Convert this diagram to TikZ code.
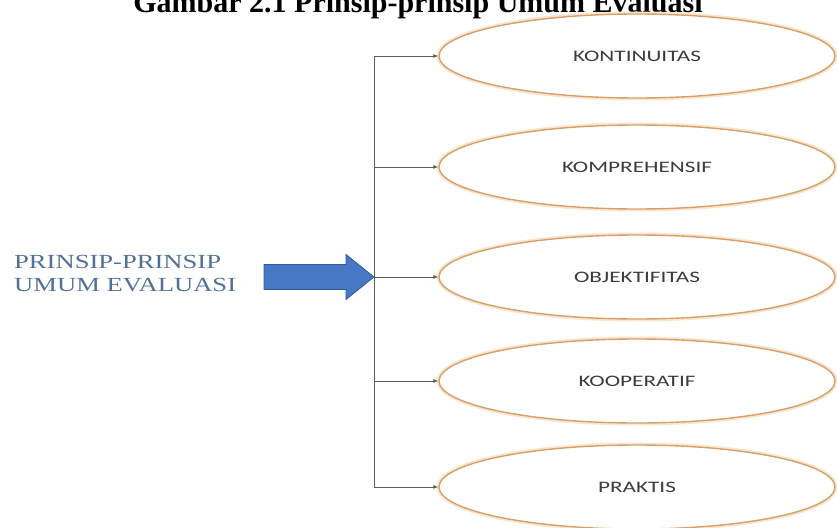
\documentclass[tikz,border=0pt]{standalone}
\usepackage{fontspec}
\setmainfont{Liberation Serif}
\newfontfamily\ovalfont[FakeStretch=1.45]{Carlito}
\newfontfamily\srcfont[FakeStretch=1.33]{Liberation Serif}
\usetikzlibrary{positioning,arrows.meta,shapes.geometric}
\definecolor{ovalline}{RGB}{214,160,104}
\definecolor{ovalglow}{RGB}{250,230,208}
\definecolor{srcblue}{RGB}{82,112,150}
\definecolor{arrblue}{RGB}{70,120,195}
\definecolor{arredge}{RGB}{50,90,150}
\definecolor{linkgray}{RGB}{95,95,95}
\definecolor{ovaltext}{RGB}{60,60,60}
\tikzset{
oval/.style={
  ellipse,
  draw=ovalline,
  line width=1.4pt,
  fill=white,
  minimum width=396pt,
  minimum height=84pt,
  font=\ovalfont\fontsize{16}{18}\selectfont,
  text=ovaltext,
  preaction={draw=ovalglow,line width=5pt}
  },
link/.style={
  draw=linkgray,
  line width=0.8pt
  },
bigarrow/.style={
  fill=arrblue,
  draw=arredge,
  line width=0.8pt,
  line join=miter
  }
}

\begin{document}
\begin{tikzpicture}[x=1pt,y=-1pt,>={Latex[length=5pt,width=4pt]}]
    \useasboundingbox (0,0) rectangle (837,527);
    % caption, its top is cut off by the page
    \node[anchor=base,font=\bfseries\fontsize{30}{32}\selectfont] (title) at (418,13)
        {Gambar 2.1 Prinsip-prinsip Umum Evaluasi};
    \node[anchor=west,align=left,text=srcblue,inner sep=0pt,
          font=\srcfont\fontsize{20}{23}\selectfont] (src) at (14,274)
        {PRINSIP-PRINSIP\\UMUM EVALUASI};
    \coordinate (hub) at (374,277);
    \foreach \name/\txt/\y in {kont/KONTINUITAS/56,komp/KOMPREHENSIF/167,
                               obj/OBJEKTIFITAS/277,koop/KOOPERATIF/381,prak/PRAKTIS/487}
        \node[oval] (\name) at (637,\y) {\txt};
    \draw[link] (hub |- kont.west) -- (hub |- prak.west);
    \foreach \name in {kont,komp,obj,koop,prak}
        \draw[link,->] (hub |- \name.west) -- (\name.west);
    % block arrow into the trunk
    \draw[bigarrow] (hub) -- ++(-28,-22.5) -- ++(0,10) -- ++(-82,0) -- ++(0,25)
        -- ++(82,0) -- ++(0,10) -- cycle;
\end{tikzpicture}
\end{document}
